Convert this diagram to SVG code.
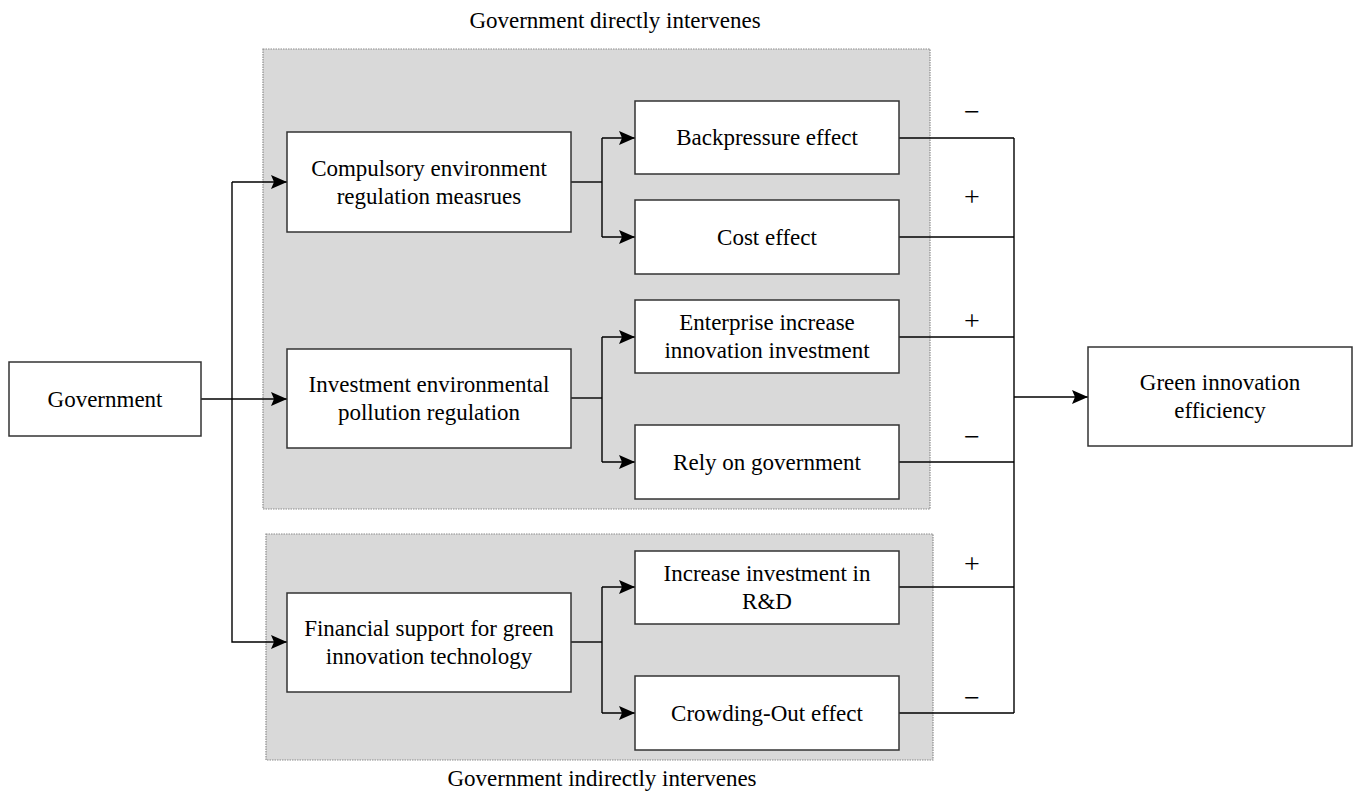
<svg xmlns="http://www.w3.org/2000/svg" width="1357" height="801" viewBox="0 0 1357 801">
<style>
  .bg { fill: #ffffff; }
  .panel { fill: #d9d9d9; stroke: #8c8c8c; stroke-width: 1.2; stroke-dasharray: 1.5 1; }
  .box { fill: #ffffff; stroke: #333333; stroke-width: 1.5; }
  .lbl { font-family: "Liberation Serif", "Times New Roman", serif; font-size: 23px; fill: #000000; text-anchor: middle; }
  .sign { font-family: "Liberation Serif", "Times New Roman", serif; font-size: 28px; fill: #000000; text-anchor: middle; }
  .conn { fill: none; stroke: #000000; stroke-width: 1.4; }
</style>
<defs>
  <marker id="arr" viewBox="0 0 16 14" refX="16" refY="7" markerWidth="16" markerHeight="14" markerUnits="userSpaceOnUse" orient="auto">
    <path d="M0,0 L16,7 L0,14 L3,7 Z" fill="#000000"/>
  </marker>
</defs>
<rect class="bg" x="0" y="0" width="1357" height="801"/>

<g id="panel-direct">
  <rect class="panel" x="263" y="49" width="667" height="460"/>
  <text class="lbl" x="615" y="28">Government directly intervenes</text>
</g>
<g id="panel-indirect">
  <rect class="panel" x="266" y="534" width="667" height="226"/>
  <text class="lbl" x="602" y="786">Government indirectly intervenes</text>
</g>

<g id="connectors">
  <path class="conn" d="M201,399 H287" stroke-width="2" marker-end="url(#arr)"/>
  <path class="conn" d="M232,182 V642 H287" marker-end="url(#arr)"/>
  <path class="conn" d="M232,182 H287" marker-end="url(#arr)"/>
  <path class="conn" d="M571,182 H602"/>
  <path class="conn" d="M602,138 V237"/>
  <path class="conn" d="M602,138 H635" marker-end="url(#arr)"/>
  <path class="conn" d="M602,237 H635" marker-end="url(#arr)"/>
  <path class="conn" d="M571,398 H602"/>
  <path class="conn" d="M602,337 V462"/>
  <path class="conn" d="M602,337 H635" marker-end="url(#arr)"/>
  <path class="conn" d="M602,462 H635" marker-end="url(#arr)"/>
  <path class="conn" d="M571,642 H602"/>
  <path class="conn" d="M602,587 V713"/>
  <path class="conn" d="M602,587 H635" marker-end="url(#arr)"/>
  <path class="conn" d="M602,713 H635" marker-end="url(#arr)"/>
  <path class="conn" d="M899,138 H1014 M899,237 H1014 M899,337 H1014 M899,462 H1014 M899,587 H1014 M899,713 H1014"/>
  <path class="conn" d="M1014,138 V713"/>
  <path class="conn" d="M1014,397 H1088" marker-end="url(#arr)"/>
  <text class="sign" x="972" y="121">−</text>
  <text class="sign" x="972" y="206">+</text>
  <text class="sign" x="972" y="330">+</text>
  <text class="sign" x="972" y="446">−</text>
  <text class="sign" x="972" y="573">+</text>
  <text class="sign" x="972" y="707">−</text>
</g>

<g id="government">
  <rect class="box" x="9" y="362" width="192" height="74"/>
  <text class="lbl" x="105" y="406.5">Government</text>
</g>
<g id="compulsory">
  <rect class="box" x="287" y="132" width="284" height="100"/>
  <text class="lbl" x="429" y="175.5">Compulsory environment</text>
  <text class="lbl" x="429" y="203.5">regulation measrues</text>
</g>
<g id="investment-regulation">
  <rect class="box" x="287" y="349" width="284" height="99"/>
  <text class="lbl" x="429" y="392">Investment environmental</text>
  <text class="lbl" x="429" y="420">pollution regulation</text>
</g>
<g id="financial-support">
  <rect class="box" x="287" y="593" width="284" height="99"/>
  <text class="lbl" x="429" y="636">Financial support for green</text>
  <text class="lbl" x="429" y="664">innovation technology</text>
</g>
<g id="backpressure">
  <rect class="box" x="635" y="101" width="264" height="73"/>
  <text class="lbl" x="767" y="145">Backpressure effect</text>
</g>
<g id="cost">
  <rect class="box" x="635" y="200" width="264" height="74"/>
  <text class="lbl" x="767" y="244.5">Cost effect</text>
</g>
<g id="enterprise">
  <rect class="box" x="635" y="300" width="264" height="73"/>
  <text class="lbl" x="767" y="330">Enterprise increase</text>
  <text class="lbl" x="767" y="358">innovation investment</text>
</g>
<g id="rely">
  <rect class="box" x="635" y="425" width="264" height="74"/>
  <text class="lbl" x="767" y="469.5">Rely on government</text>
</g>
<g id="increase-rd">
  <rect class="box" x="635" y="551" width="264" height="73"/>
  <text class="lbl" x="767" y="581">Increase investment in</text>
  <text class="lbl" x="767" y="609">R&amp;D</text>
</g>
<g id="crowding">
  <rect class="box" x="635" y="676" width="264" height="74"/>
  <text class="lbl" x="767" y="720.5">Crowding-Out effect</text>
</g>
<g id="green">
  <rect class="box" x="1088" y="347" width="264" height="99"/>
  <text class="lbl" x="1220" y="390">Green innovation</text>
  <text class="lbl" x="1220" y="418">efficiency</text>
</g>
</svg>
